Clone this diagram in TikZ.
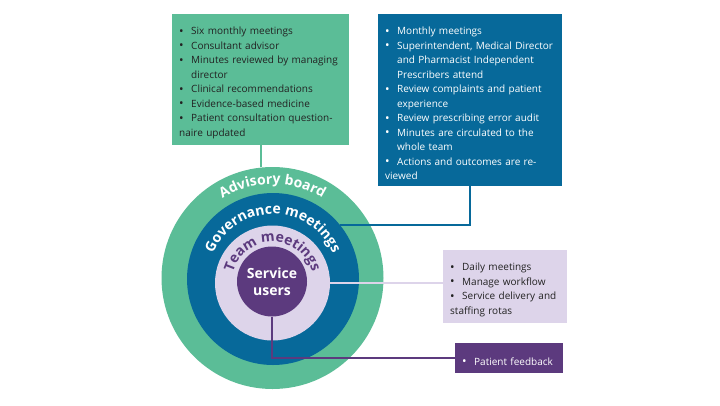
\documentclass[tikz,border=0pt]{standalone}
\usepackage{fontspec}
\setmainfont{Open Sans}
\usetikzlibrary{decorations.text}
\definecolor{cgreen}{HTML}{5BBD97}
\definecolor{cblue}{HTML}{07699A}
\definecolor{clilac}{HTML}{DDD4EA}
\definecolor{cpurple}{HTML}{5C3A7E}
\definecolor{ctext}{HTML}{222222}
\newcommand{\bl}[1]{\par\hyphenpenalty=10000\exhyphenpenalty=10000\hangindent=12pt\hangafter=1\noindent\makebox[12pt][l]{\large\raisebox{-0.5pt}{•}}#1}
\tikzset{
  box/.style={rectangle, anchor=north west, align=left, inner xsep=7pt, inner ysep=6pt,
     font=\fontsize{10}{14.5}\selectfont},
  ring/.style={circle, inner sep=0pt},
  conn/.style={line width=1.8pt},
}
\begin{document}
\begin{tikzpicture}[x=1pt,y=-1pt]
\useasboundingbox[fill=white] (0,0) rectangle (720,405);
% circles
\node[ring, fill=cgreen, minimum size=222pt] (outer) at (272.5,278) {};
\node[ring, fill=cblue, minimum size=172pt] (gov) at (273,279) {};
\node[ring, fill=clilac, minimum size=115pt] (team) at (272.5,283) {};
\node[ring, fill=cpurple, minimum size=70pt, font=\fontsize{14}{17}\selectfont\bfseries, text=white, align=center] (svc) at (272,281.5) {Service\\users};
% curved labels
\path[postaction={decorate,decoration={text along path, text align=center, text color=white,
  text={|\fontsize{14}{14}\selectfont\bfseries|Advisory board}}}]
  (272.5,278) ++(180:94) arc[start angle=180, end angle=360, radius=94];
\path[postaction={decorate,decoration={text along path, text align=center, text color=white,
  text={|\fontsize{14}{14}\selectfont\bfseries|Governance meetings}}}]
  (273,279) ++(180:65) arc[start angle=180, end angle=360, radius=65];
\path[postaction={decorate,decoration={text along path, text align=center, text color=cpurple,
  text={|\fontsize{14}{14}\selectfont\bfseries|Team meetings}}}]
  (272.5,283) ++(180:41) arc[start angle=180, end angle=360, radius=41];
% boxes
\node[box, fill=cgreen, text=ctext, text width=163pt, minimum width=177pt, minimum height=128pt] (gbox) at (172,14) {%
\bl{Six monthly meetings}\bl{Consultant advisor}\bl{Minutes reviewed by managing director}\bl{Clinical recommendations}\bl{Evidence-based medicine}\bl{Patient consultation questionnaire updated}};
\node[box, fill=cblue, text=white, text width=170pt, minimum width=184pt, minimum height=172pt] (bbox) at (378,14) {%
\bl{Monthly meetings}\bl{Superintendent, Medical Director and Pharmacist Independent Prescribers attend}\bl{Review complaints and patient experience}\bl{Review prescribing error audit}\bl{Minutes are circulated to the whole team}\bl{Actions and outcomes are reviewed}};
\node[box, fill=clilac, text=ctext, text width=110pt, minimum width=121pt, minimum height=68pt] (lbox) at (443,250) {%
\bl{Daily meetings}\bl{Manage workflow}\bl{Service delivery and staffing rotas}};
\node[box, fill=cpurple, text=white, text width=94pt, minimum width=108pt, minimum height=30pt] (pbox) at (455,343) {%
\bl{Patient feedback}};
% connectors
\draw[conn, cgreen] (gbox.south) -- (gbox.south |- outer.north);
\draw[conn, cblue] (gov.39) -- (gov.39 -| bbox.south) -- (bbox.south);
\draw[conn, clilac] (team.east) -- (team.east -| lbox.west);
\draw[conn, cpurple] (svc.south) |- (pbox.west);
\end{tikzpicture}
\end{document}
